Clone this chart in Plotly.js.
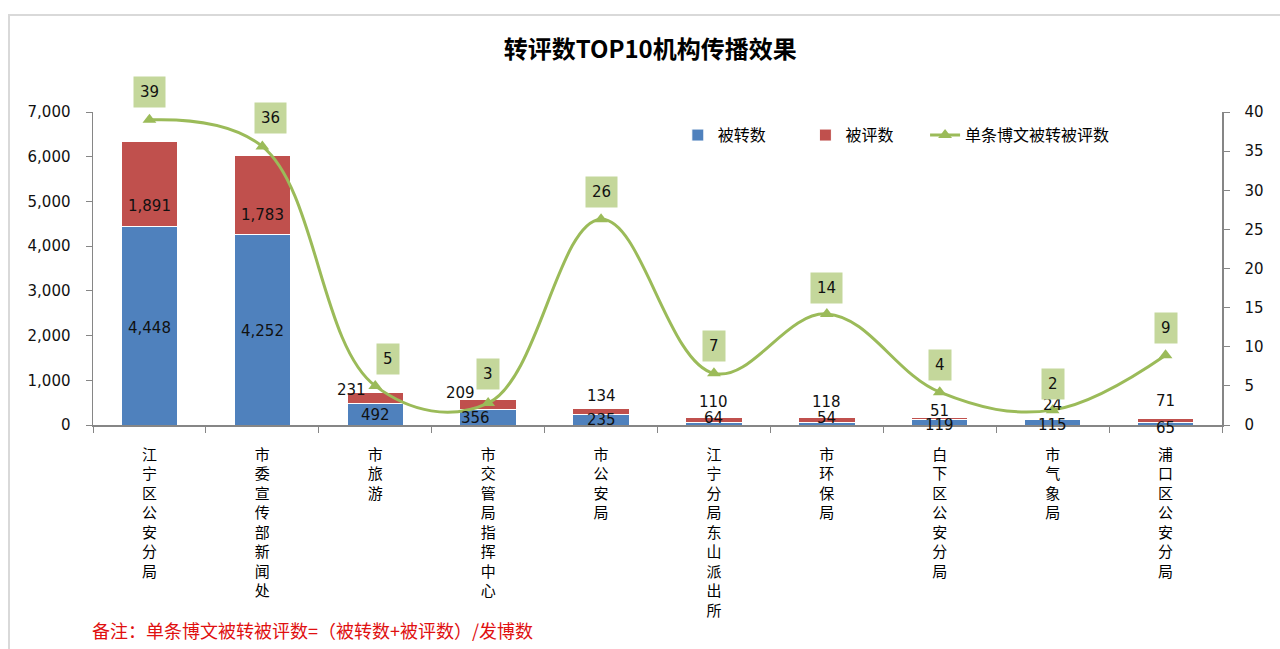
<!DOCTYPE html>
<html>
<head>
<meta charset="utf-8">
<script src="https://cdn.plot.ly/plotly-3.0.1.min.js"></script>
<style>
  html, body { margin: 0; padding: 0; background: #ffffff; overflow: hidden; }
  #frame { position: absolute; left: 8px; top: 14px; width: 1300px; height: 700px;
           border: 2px solid #d9d9d9; box-sizing: border-box; }
  #chart { position: absolute; left: 0; top: 0; width: 1280px; height: 649px; }
</style>
</head>
<body>
<div id="frame"></div>
<div id="chart"></div>
<script>
// ---- data ----
const categories = ['江宁区公安分局','市委宣传部新闻处','市旅游','市交管局指挥中心','市公安局','江宁分局东山派出所','市环保局','白下区公安分局','市气象局','浦口区公安分局'];
const reposts  = [4448, 4252, 492, 356, 235, 64, 54, 119, 115, 65];      // 被转数
const comments = [1891, 1783, 231, 209, 134, 110, 118, 51, 24, 71];      // 被评数
const perPost  = [39, 35.6, 5.0, 2.8, 26.3, 6.6, 14.2, 4.2, 1.9, 8.9];  // 单条博文被转被评数
const leftTicks  = [0, 1000, 2000, 3000, 4000, 5000, 6000, 7000];
const rightTicks = [0, 5, 10, 15, 20, 25, 30, 35, 40];

// ---- label placement (pixel nudges) ----
const blueShift = [[0,-2],[0,-1],[0,-1],[-13,-1],[0,0],[0,6],[0,6],[0,-3],[0,-3],[0,-4]];
const redShift  = [[0,-22],[0,-20],[-24,8],[-28,11],[0,16],[0,18],[0,18],[0,8],[0,14],[0,20]];
const lineShift = [[0,28],[8,28],[13,27],[0,29],[0,27],[0,27],[0,26],[0,27],[0,26],[0,27]];

const xLabels = categories.map(c => c.split('').join('<br>'));
const numFont = 'DejaVu Sans, Verdana, sans-serif';
const cjkFont = 'Noto Sans CJK SC, sans-serif';
const fmt = v => v.toLocaleString('en-US');

const traces = [
  { type: 'bar', name: '被转数', x: xLabels, y: reposts, legend: 'legend',
    marker: { color: '#4f81bd', line: { color: '#ffffff', width: 1 } }, hoverinfo: 'y' },
  { type: 'bar', name: '被评数', x: xLabels, y: comments, legend: 'legend2',
    marker: { color: '#c0504d', line: { color: '#ffffff', width: 1 } }, hoverinfo: 'y' },
  { type: 'scatter', mode: 'lines+markers', name: '单条博文被转被评数', x: xLabels, y: perPost,
    yaxis: 'y2', legend: 'legend3', line: { color: '#9bbb59', width: 3, shape: 'spline', smoothing: 1.1 },
    marker: { symbol: 'triangle-up', size: 12, color: '#9bbb59' } }
];

const annotations = [];
for (let i = 0; i < categories.length; i++) {
  annotations.push({ x: xLabels[i], y: reposts[i] / 2, xref: 'x', yref: 'y',
    text: fmt(reposts[i]), showarrow: false, xshift: blueShift[i][0], yshift: blueShift[i][1],
    font: { family: numFont, size: 15, color: '#111' } });
  annotations.push({ x: xLabels[i], y: reposts[i] + comments[i] / 2, xref: 'x', yref: 'y',
    text: fmt(comments[i]), showarrow: false, xshift: redShift[i][0], yshift: redShift[i][1],
    font: { family: numFont, size: 15, color: '#111' } });
  annotations.push({ x: xLabels[i], y: perPost[i], xref: 'x', yref: 'y2',
    text: String(Math.round(perPost[i])), showarrow: false,
    xshift: lineShift[i][0], yshift: lineShift[i][1],
    bgcolor: '#c4d79b', borderpad: 6,
    font: { family: numFont, size: 15, color: '#111' } });
}
annotations.push({ xref: 'paper', yref: 'paper', x: -0.003, y: -0.655, xanchor: 'left', yanchor: 'middle',
  text: '备注：单条博文被转被评数=（被转数+被评数）/发博数', showarrow: false,
  font: { family: cjkFont, size: 18, color: '#e01010' } });

const legendBase = { orientation: 'h', y: 0.926, xanchor: 'left', yanchor: 'middle',
  font: { family: cjkFont, size: 16, color: '#000' }, bgcolor: 'rgba(0,0,0,0)' };

const layout = {
  width: 1280, height: 649,
  margin: { l: 93, r: 58, t: 112, b: 224, pad: 0 },
  paper_bgcolor: 'rgba(0,0,0,0)', plot_bgcolor: 'rgba(0,0,0,0)',
  barmode: 'stack', bargap: 0.5,
  title: { text: '<b>转评数TOP10机构传播效果</b>', x: 0.508, xref: 'container', xanchor: 'center',
           y: 0.923, yref: 'container', yanchor: 'middle',
           font: { family: cjkFont, size: 24, color: '#000' } },
  showlegend: true,
  legend:  Object.assign({}, legendBase, { x: 0.518 }),
  legend2: Object.assign({}, legendBase, { x: 0.631 }),
  legend3: Object.assign({}, legendBase, { x: 0.737 }),
  xaxis: { type: 'category', range: [-0.5, 9.5], showline: true, linecolor: '#868686', linewidth: 1.5,
           ticks: 'outside', tickson: 'boundaries', ticklen: 6, tickcolor: '#868686',
           showgrid: false, zeroline: false, tickangle: 0, ticklabelstandoff: 15,
           tickfont: { family: cjkFont, size: 15, color: '#000' } },
  yaxis: { range: [0, 7000], tickvals: leftTicks, ticktext: leftTicks.map(fmt),
           showline: true, linecolor: '#868686', linewidth: 1.5, ticks: 'outside', ticklen: 6,
           tickcolor: '#868686', showgrid: false, zeroline: false, ticklabelstandoff: 12,
           tickfont: { family: numFont, size: 15, color: '#111' } },
  yaxis2: { range: [0, 40], tickvals: rightTicks, overlaying: 'y', side: 'right',
            showline: true, linecolor: '#868686', linewidth: 1.5, ticks: 'outside', ticklen: 6,
            tickcolor: '#868686', showgrid: false, zeroline: false, ticklabelstandoff: 12,
            tickfont: { family: numFont, size: 15, color: '#111' } },
  annotations: annotations
};

Plotly.newPlot('chart', traces, layout, { displayModeBar: false, staticPlot: true });
</script>
</body>
</html>
